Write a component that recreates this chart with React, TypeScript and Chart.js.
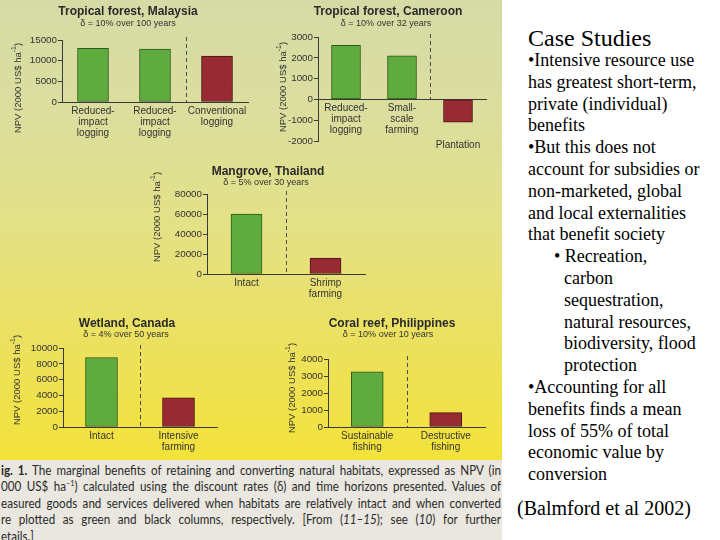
import React, { useEffect, useRef } from "react";
import { Chart, registerables } from "chart.js";

Chart.register(...registerables);

// ---------- data ----------
const malaysiaCategories = [["Reduced-", "impact", "logging"], ["Reduced-", "impact", "logging"], ["Conventional", "logging"]];
const malaysiaValues = [13000, 12800, 11100];
const malaysiaKinds = ["retained", "retained", "converted"];
const malaysiaTicks = [0, 5000, 10000, 15000];

const cameroonCategories = [["Reduced-", "impact", "logging"], ["Small-", "scale", "farming"], ["Plantation"]];
const cameroonValues = [2600, 2100, -1100];
const cameroonKinds = ["retained", "retained", "converted"];
const cameroonTicks = [-2000, -1000, 0, 1000, 2000, 3000];

const mangroveCategories = [["Intact"], ["Shrimp", "farming"]];
const mangroveValues = [60000, 16000];
const mangroveKinds = ["retained", "converted"];
const mangroveTicks = [0, 20000, 40000, 60000, 80000];

const wetlandCategories = [["Intact"], ["Intensive", "farming"]];
const wetlandValues = [8800, 3700];
const wetlandKinds = ["retained", "converted"];
const wetlandTicks = [0, 2000, 4000, 6000, 8000, 10000];

const coralCategories = [["Sustainable", "fishing"], ["Destructive", "fishing"]];
const coralValues = [3250, 850];
const coralKinds = ["retained", "converted"];
const coralTicks = [0, 1000, 2000, 3000, 4000];

const yAxisTitle = "NPV (2000 US$ ha";

// ---------- styles ----------
const FONT = "'Liberation Sans', Arial, sans-serif";
const TXT = "#333333";
const AXIS = "#3a3a3a";
const GREEN = "#5fab3e";
const GREEN_EDGE = "#2c5a1c";
const RED = "#972a33";
const RED_EDGE = "#4a1418";

type Rect = { x: number; y: number; w: number; h: number };
type Area = { l: number; t: number; r: number; b: number };
type Pt = { x: number; y: number };

type PanelProps = {
  title: string;
  subtitle: string;
  categories: string[][];
  values: number[];
  kinds: string[];
  ticks: number[];
  separatorAfter: number;
  box: Rect;
  area: Area;
  titlePos: Pt;
  subtitlePos: Pt;
  yTitlePos: Pt;
  barThickness: number;
};

const SCALE_W = 40;

const panelPlugin = {
  id: "panel",
  afterDatasetsDraw(chart: any, _args: any, opts: any) {
    const ctx = chart.ctx as CanvasRenderingContext2D;
    const xs = chart.scales.x;
    const ys = chart.scales.y;
    const area = chart.chartArea;
    const zeroY = ys.getPixelForValue(0);
    const i = opts.separatorAfter;
    const sx = Math.round((xs.getPixelForValue(i) + xs.getPixelForValue(i + 1)) / 2) + 0.5;
    ctx.save();
    ctx.strokeStyle = "#4a4a4a";
    ctx.lineWidth = 1;
    ctx.setLineDash([4, 3]);
    ctx.beginPath();
    ctx.moveTo(sx, area.top - 3);
    ctx.lineTo(sx, zeroY);
    ctx.stroke();
    ctx.restore();
  },
  afterDraw(chart: any, _args: any, opts: any) {
    const ctx = chart.ctx as CanvasRenderingContext2D;
    const xs = chart.scales.x;
    const ys = chart.scales.y;
    const area = chart.chartArea;
    const zeroY = ys.getPixelForValue(0);
    ctx.save();
    ctx.textAlign = "center";
    ctx.textBaseline = "middle";
    ctx.font = `bold 12px ${FONT}`;
    ctx.fillStyle = "#2a2a2a";
    ctx.fillText(opts.title, opts.titlePos.x, opts.titlePos.y);
    ctx.font = `9px ${FONT}`;
    ctx.fillStyle = TXT;
    ctx.fillText(opts.subtitle, opts.subtitlePos.x, opts.subtitlePos.y);
    ctx.font = `10px ${FONT}`;
    const labels = chart.data.labels as string[][];
    const data = chart.data.datasets[0].data as number[];
    labels.forEach((lines, k) => {
      const cx = xs.getPixelForValue(k);
      const y0 = data[k] < 0 ? area.bottom + 4 : zeroY + 9;
      lines.forEach((ln, j) => ctx.fillText(ln, cx, y0 + j * 11));
    });
    ctx.translate(opts.yTitlePos.x, opts.yTitlePos.y);
    ctx.rotate(-Math.PI / 2);
    ctx.textAlign = "left";
    const mainFont = `9.5px ${FONT}`;
    const supFont = `7px ${FONT}`;
    ctx.font = mainFont;
    const w1 = ctx.measureText(opts.yTitle).width;
    const w3 = ctx.measureText(")").width;
    ctx.font = supFont;
    const w2 = ctx.measureText("-1").width;
    let px = -(w1 + w2 + w3) / 2;
    ctx.font = mainFont;
    ctx.fillText(opts.yTitle, px, 0);
    px += w1;
    ctx.font = supFont;
    ctx.fillText("-1", px, -3.5);
    px += w2;
    ctx.font = mainFont;
    ctx.fillText(")", px, 0);
    ctx.restore();
  },
};

function ChartPanel(p: PanelProps) {
  const ref = useRef<HTMLCanvasElement | null>(null);
  useEffect(() => {
    if (!ref.current) return;
    const { box, area } = p;
    const toLocal = (pt: Pt) => ({ x: pt.x - box.x, y: pt.y - box.y });
    const chart = new Chart(ref.current, {
      type: "bar",
      data: {
        labels: p.categories as any,
        datasets: [
          {
            data: p.values,
            backgroundColor: p.kinds.map((k) => (k === "retained" ? GREEN : RED)),
            borderColor: p.kinds.map((k) => (k === "retained" ? GREEN_EDGE : RED_EDGE)),
            borderWidth: 1,
            borderSkipped: false,
            barThickness: p.barThickness,
          },
        ],
      },
      options: {
        responsive: false,
        animation: false,
        layout: {
          padding: {
            left: area.l - box.x - SCALE_W,
            top: area.t - box.y,
            right: box.x + box.w - area.r,
            bottom: box.y + box.h - area.b,
          },
        },
        plugins: {
          legend: { display: false },
          tooltip: { enabled: false },
          title: { display: false },
          panel: {
            title: p.title,
            subtitle: p.subtitle,
            separatorAfter: p.separatorAfter,
            titlePos: toLocal(p.titlePos),
            subtitlePos: toLocal(p.subtitlePos),
            yTitlePos: toLocal(p.yTitlePos),
            yTitle: yAxisTitle,
          },
        } as any,
        scales: {
          x: {
            type: "category",
            position: { y: 0 } as any,
            grid: { display: false },
            border: { display: true, color: AXIS, width: 1 },
            ticks: { display: false },
          },
          y: {
            min: p.ticks[0],
            max: p.ticks[p.ticks.length - 1],
            afterBuildTicks: (s: any) => {
              s.ticks = p.ticks.map((v) => ({ value: v }));
            },
            afterFit: (s: any) => {
              s.width = SCALE_W;
            },
            grid: { drawOnChartArea: false, drawTicks: true, tickLength: 4, color: AXIS },
            border: { display: true, color: AXIS, width: 1 },
            ticks: {
              font: { family: FONT, size: 9.8 },
              color: TXT,
              padding: 1,
              callback: (v: any) => String(v),
            },
          },
        },
      },
      plugins: [panelPlugin as any],
    });
    return () => chart.destroy();
  }, []);
  const { box } = p;
  return (
    <canvas
      ref={ref}
      width={box.w}
      height={box.h}
      style={{ position: "absolute", left: box.x, top: box.y, width: box.w, height: box.h }}
    />
  );
}

const captionLines: React.ReactNode[] = [
  <>
    <b>ig. 1.</b> The marginal benefits of retaining and converting natural habitats, expressed as NPV (in
  </>,
  <>
    000 US$ ha<sup style={{ fontSize: "8px", lineHeight: 0 }}>−1</sup>) calculated using the discount rates (δ) and time horizons presented. Values of
  </>,
  <>easured goods and services delivered when habitats are relatively intact and when converted</>,
  <>
    re plotted as green and black columns, respectively. [From (<i>11–15</i>); see (<i>10</i>) for further
  </>,
  <>etails.]</>,
];

const sideLines: { text: string; x: number }[] = [
  { text: "•Intensive resource use", x: 528 },
  { text: "has greatest short-term,", x: 528 },
  { text: "private (individual)", x: 528 },
  { text: "benefits", x: 528 },
  { text: "•But this does not", x: 528 },
  { text: "account for subsidies or", x: 528 },
  { text: "non-marketed, global", x: 528 },
  { text: "and local externalities", x: 528 },
  { text: "that benefit society", x: 528 },
  { text: "• Recreation,", x: 554 },
  { text: "carbon", x: 564 },
  { text: "sequestration,", x: 564 },
  { text: "natural resources,", x: 564 },
  { text: "biodiversity, flood", x: 564 },
  { text: "protection", x: 564 },
  { text: "•Accounting for all", x: 528 },
  { text: "benefits finds a mean", x: 528 },
  { text: "loss of 55% of total", x: 528 },
  { text: "economic value by", x: 528 },
  { text: "conversion", x: 528 },
];

const CAP_SCALE = 0.93;

export default function App() {
  const serif = "'Liberation Serif', 'Times New Roman', serif";
  return (
    <div
      style={{
        position: "fixed",
        left: 0,
        top: 0,
        width: 720,
        height: 540,
        background: "#ffffff",
        overflow: "hidden",
      }}
    >
      <div
        style={{
          position: "absolute",
          left: 0,
          top: 0,
          width: 502,
          height: 460,
          background:
            "linear-gradient(to bottom, #d6dba6 0%, #dbde9d 25%, #e4e185 50%, #ece15e 75%, #f3e23a 100%)",
        }}
      />
      <div
        style={{
          position: "absolute",
          left: 0,
          top: 460,
          width: 502,
          height: 80,
          background: "#e9e7df",
        }}
      />
      {captionLines.map((ln, i) => (
        <div
          key={i}
          style={{
            position: "absolute",
            left: 1,
            top: 471 + i * 16.4 - 8,
            width: 500 / CAP_SCALE,
            height: 16,
            lineHeight: "16px",
            fontFamily: "Lato, 'Open Sans', sans-serif",
            fontSize: 12.5,
            color: "#2a2a2a",
            whiteSpace: "nowrap",
            overflow: "hidden",
            transform: `scaleX(${CAP_SCALE})`,
            transformOrigin: "0 0",
            textAlign: i < 4 ? "justify" : "left",
            textAlignLast: i < 4 ? "justify" : "left",
          }}
        >
          {ln}
        </div>
      ))}

      <ChartPanel
        title="Tropical forest, Malaysia"
        subtitle="δ = 10% over 100 years"
        categories={malaysiaCategories}
        values={malaysiaValues}
        kinds={malaysiaKinds}
        ticks={malaysiaTicks}
        separatorAfter={1}
        box={{ x: 0, y: 0, w: 256, h: 142 }}
        area={{ l: 62, t: 40, r: 248, b: 102 }}
        titlePos={{ x: 128, y: 12 }}
        subtitlePos={{ x: 128, y: 24 }}
        yTitlePos={{ x: 18, y: 88 }}
        barThickness={31}
      />
      <ChartPanel
        title="Tropical forest, Cameroon"
        subtitle="δ = 10% over 32 years"
        categories={cameroonCategories}
        values={cameroonValues}
        kinds={cameroonKinds}
        ticks={cameroonTicks}
        separatorAfter={1}
        box={{ x: 256, y: 0, w: 246, h: 160 }}
        area={{ l: 318, t: 37, r: 486, b: 141 }}
        titlePos={{ x: 388, y: 12 }}
        subtitlePos={{ x: 386, y: 24 }}
        yTitlePos={{ x: 283, y: 87 }}
        barThickness={29}
      />
      <ChartPanel
        title="Mangrove, Thailand"
        subtitle="δ = 5% over 30 years"
        categories={mangroveCategories}
        values={mangroveValues}
        kinds={mangroveKinds}
        ticks={mangroveTicks}
        separatorAfter={0}
        box={{ x: 140, y: 155, w: 240, h: 150 }}
        area={{ l: 207, t: 194, r: 365, b: 274 }}
        titlePos={{ x: 268, y: 172 }}
        subtitlePos={{ x: 266, y: 183 }}
        yTitlePos={{ x: 157, y: 217 }}
        barThickness={31}
      />
      <ChartPanel
        title="Wetland, Canada"
        subtitle="δ = 4% over 50 years"
        categories={wetlandCategories}
        values={wetlandValues}
        kinds={wetlandKinds}
        ticks={wetlandTicks}
        separatorAfter={0}
        box={{ x: 0, y: 310, w: 250, h: 152 }}
        area={{ l: 63, t: 348, r: 217, b: 427 }}
        titlePos={{ x: 127, y: 324 }}
        subtitlePos={{ x: 126, y: 335 }}
        yTitlePos={{ x: 17, y: 380 }}
        barThickness={32}
      />
      <ChartPanel
        title="Coral reef, Philippines"
        subtitle="δ = 10% over 10 years"
        categories={coralCategories}
        values={coralValues}
        kinds={coralKinds}
        ticks={coralTicks}
        separatorAfter={0}
        box={{ x: 250, y: 310, w: 252, h: 152 }}
        area={{ l: 328, t: 359, r: 485, b: 427 }}
        titlePos={{ x: 392, y: 324 }}
        subtitlePos={{ x: 388, y: 335 }}
        yTitlePos={{ x: 292, y: 388 }}
        barThickness={32}
      />

      <div
        style={{
          position: "absolute",
          left: 528,
          top: 38 - 15,
          height: 30,
          lineHeight: "30px",
          fontFamily: serif,
          fontSize: 24,
          color: "#000",
          whiteSpace: "nowrap",
        }}
      >
        Case Studies
      </div>
      {sideLines.map((ln, i) => (
        <div
          key={i}
          style={{
            position: "absolute",
            left: ln.x,
            top: 60 + i * 21.8 - 11,
            height: 22,
            lineHeight: "22px",
            fontFamily: serif,
            fontSize: 18,
            color: "#000",
            whiteSpace: "nowrap",
          }}
        >
          {ln.text}
        </div>
      ))}
      <div
        style={{
          position: "absolute",
          left: 517,
          top: 508 - 12,
          height: 24,
          lineHeight: "24px",
          fontFamily: serif,
          fontSize: 20,
          color: "#000",
          whiteSpace: "nowrap",
        }}
      >
        (Balmford et al 2002)
      </div>
    </div>
  );
}
